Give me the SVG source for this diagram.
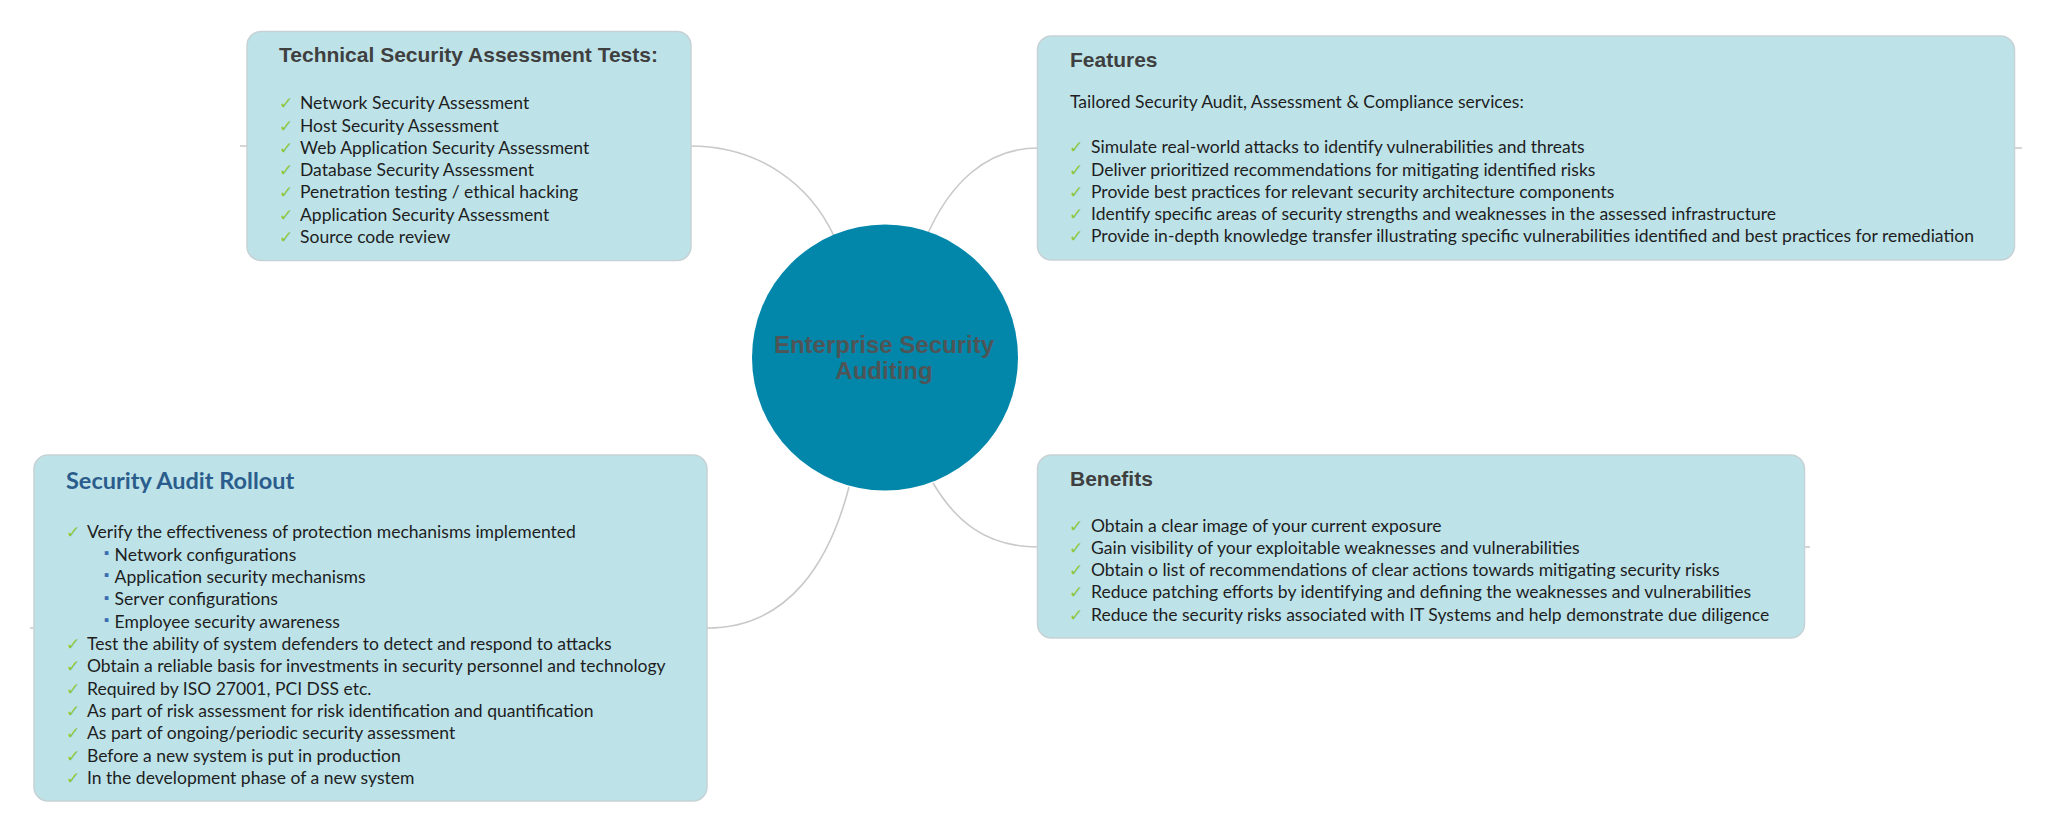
<svg xmlns="http://www.w3.org/2000/svg" width="2048" height="833" viewBox="0 0 2048 833">
<style>
.box{fill:#bde3e9;stroke:#c6d2d5;stroke-width:1.5}
.conn{fill:none;stroke:#c9c9c9;stroke-width:1.6}
.ttl{font-family:"Liberation Sans",Arial,sans-serif;font-weight:bold;font-size:21px;fill:#3f3f3f}
.txt{font-family:Lato,"Open Sans",sans-serif;font-size:17.55px;fill:#1e1e1e}
.chk{font-family:"DejaVu Sans",sans-serif;font-size:17px;fill:#8cc63f}
.sub{font-family:"DejaVu Sans",sans-serif;font-size:7.5px;fill:#3b6cb0}
.rtl{font-family:Lato,"Open Sans",sans-serif;font-weight:bold;font-size:23.5px;fill:#2b5d8c}
.ctr{font-family:"Liberation Sans",Arial,sans-serif;font-weight:bold;font-size:24px;fill:#4f5556;text-anchor:middle}
</style>
<rect width="2048" height="833" fill="#ffffff"/>
<g id="connectors">
<path class="conn" d="M240,146 H690 C760,146 810,185 834,236"/>
<path class="conn" d="M928,233 C950,185 985,148 1038,148 H2022"/>
<path class="conn" d="M933,483 C955,520 985,547 1038,547 H1810"/>
<path class="conn" d="M849,487 C830,560 790,628 707,628 H30"/>
</g>
<g id="center">
<circle cx="885" cy="357.5" r="133" fill="#0287ab"/>
<text class="ctr" x="884" y="352.5">Enterprise Security</text>
<text class="ctr" x="884" y="378.5">Auditing</text>
</g>
<g id="technical-tests">
<rect class="box" x="247" y="31.5" width="444" height="229" rx="14"/>
<text class="ttl" x="279" y="61.7">Technical Security Assessment Tests:</text>
<g class="chk">
<text x="279" y="109.3">✓</text><text x="279" y="131.5">✓</text><text x="279" y="153.8">✓</text><text x="279" y="176">✓</text><text x="279" y="198.2">✓</text><text x="279" y="220.5">✓</text><text x="279" y="242.7">✓</text>
</g>
<text class="txt" x="300" y="109.3">Network Security Assessment</text>
<text class="txt" x="300" y="131.5">Host Security Assessment</text>
<text class="txt" x="300" y="153.8">Web Application Security Assessment</text>
<text class="txt" x="300" y="176">Database Security Assessment</text>
<text class="txt" x="300" y="198.2">Penetration testing / ethical hacking</text>
<text class="txt" x="300" y="220.5">Application Security Assessment</text>
<text class="txt" x="300" y="242.7">Source code review</text>
</g>
<g id="features">
<rect class="box" x="1037.5" y="36" width="977" height="224" rx="14"/>
<text class="ttl" x="1070" y="67">Features</text>
<text class="txt" x="1070" y="108">Tailored Security Audit, Assessment &amp; Compliance services:</text>
<g class="chk">
<text x="1069" y="153.3">✓</text><text x="1069" y="175.7">✓</text><text x="1069" y="197.8">✓</text><text x="1069" y="220">✓</text><text x="1069" y="242.3">✓</text>
</g>
<text class="txt" x="1091" y="153.3">Simulate real-world attacks to identify vulnerabilities and threats</text>
<text class="txt" x="1091" y="175.7">Deliver prioritized recommendations for mitigating identified risks</text>
<text class="txt" x="1091" y="197.8">Provide best practices for relevant security architecture components</text>
<text class="txt" x="1091" y="220">Identify specific areas of security strengths and weaknesses in the assessed infrastructure</text>
<text class="txt" x="1091" y="242.3">Provide in-depth knowledge transfer illustrating specific vulnerabilities identified and best practices for remediation</text>
</g>
<g id="rollout">
<rect class="box" x="34" y="455" width="673" height="346" rx="14"/>
<text class="rtl" x="66" y="489.3">Security Audit Rollout</text>
<g class="chk">
<text x="66" y="538.3">✓</text><text x="66" y="650">✓</text><text x="66" y="672.3">✓</text><text x="66" y="694.6">✓</text><text x="66" y="716.9">✓</text><text x="66" y="739.2">✓</text><text x="66" y="761.5">✓</text><text x="66" y="783.8">✓</text>
</g>
<g class="sub">
<text x="104" y="555">▪</text><text x="104" y="577.3">▪</text><text x="104" y="599.6">▪</text><text x="104" y="621.9">▪</text>
</g>
<text class="txt" x="87" y="538.3">Verify the effectiveness of protection mechanisms implemented</text>
<text class="txt" x="114.6" y="560.6">Network configurations</text>
<text class="txt" x="114.6" y="582.9">Application security mechanisms</text>
<text class="txt" x="114.6" y="605.2">Server configurations</text>
<text class="txt" x="114.6" y="627.5">Employee security awareness</text>
<text class="txt" x="87" y="650">Test the ability of system defenders to detect and respond to attacks</text>
<text class="txt" x="87" y="672.3">Obtain a reliable basis for investments in security personnel and technology</text>
<text class="txt" x="87" y="694.6">Required by ISO 27001, PCI DSS etc.</text>
<text class="txt" x="87" y="716.9">As part of risk assessment for risk identification and quantification</text>
<text class="txt" x="87" y="739.2">As part of ongoing/periodic security assessment</text>
<text class="txt" x="87" y="761.5">Before a new system is put in production</text>
<text class="txt" x="87" y="783.8">In the development phase of a new system</text>
</g>
<g id="benefits">
<rect class="box" x="1037.5" y="455" width="767" height="183" rx="14"/>
<text class="ttl" x="1070" y="486">Benefits</text>
<g class="chk">
<text x="1069" y="531.7">✓</text><text x="1069" y="554">✓</text><text x="1069" y="576.2">✓</text><text x="1069" y="598.4">✓</text><text x="1069" y="620.7">✓</text>
</g>
<text class="txt" x="1091" y="531.7">Obtain a clear image of your current exposure</text>
<text class="txt" x="1091" y="554">Gain visibility of your exploitable weaknesses and vulnerabilities</text>
<text class="txt" x="1091" y="576.2">Obtain o list of recommendations of clear actions towards mitigating security risks</text>
<text class="txt" x="1091" y="598.4">Reduce patching efforts by identifying and defining the weaknesses and vulnerabilities</text>
<text class="txt" x="1091" y="620.7">Reduce the security risks associated with IT Systems and help demonstrate due diligence</text>
</g>
</svg>
